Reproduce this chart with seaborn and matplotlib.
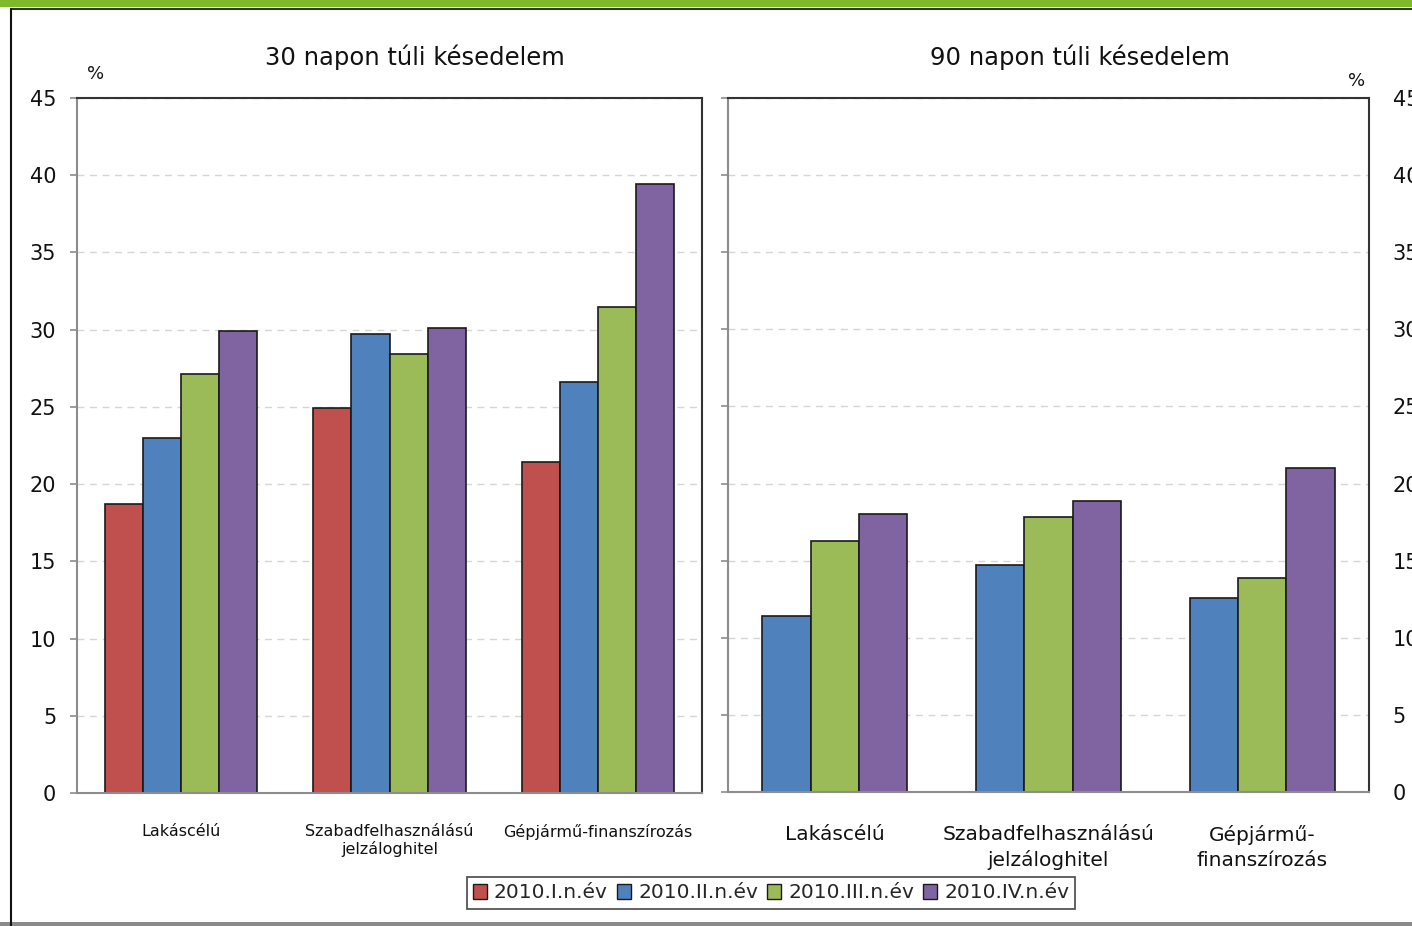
import numpy as np
import pandas as pd
import matplotlib
matplotlib.use("Agg")
import matplotlib.pyplot as plt
import seaborn as sns
from matplotlib.patches import Patch, Rectangle
from matplotlib.lines import Line2D

# Categories and periods
categories_left = ["Lakáscélú", "Szabadfelhasználású\njelzáloghitel", "Gépjármű-finanszírozás"]
categories_right = ["Lakáscélú", "Szabadfelhasználású\njelzáloghitel", "Gépjármű-\nfinanszírozás"]
periods = ["2010.I.n.év", "2010.II.n.év", "2010.III.n.év", "2010.IV.n.év"]
colors = ["#C0504D", "#4F81BD", "#9BBB59", "#8064A2"]

# 30 days past due (%), one list per period
late30_q1 = [18.7, 24.9, 21.4]
late30_q2 = [23.0, 29.7, 26.6]
late30_q3 = [27.1, 28.4, 31.5]
late30_q4 = [29.9, 30.1, 39.4]

# 90 days past due (%), no data for the first period
late90_q2 = [11.4, 14.7, 12.6]
late90_q3 = [16.3, 17.8, 13.9]
late90_q4 = [18.0, 18.9, 21.0]

yticks = [0, 5, 10, 15, 20, 25, 30, 35, 40, 45]

def long_frame(cats, series, names):
    rows = []
    for name, vals in zip(names, series):
        for c, v in zip(cats, vals):
            rows.append({"kategória": c, "időszak": name, "érték": v})
    return pd.DataFrame(rows)

df30 = long_frame(categories_left, [late30_q1, late30_q2, late30_q3, late30_q4], periods)
df90 = long_frame(categories_right, [late90_q2, late90_q3, late90_q4], periods[1:])

sns.set_theme(style="white")
plt.rcParams["font.family"] = ["DejaVu Sans"]

fig = plt.figure(figsize=(14.12, 9.26), dpi=100)
W, H = 1412, 926

def px_axes(x0, y0, x1, y1):
    return fig.add_axes([x0 / W, 1 - y1 / H, (x1 - x0) / W, (y1 - y0) / H])

ax1 = px_axes(77, 98, 702, 793)
ax2 = px_axes(728, 98, 1369, 792)

sns.barplot(data=df30, x="kategória", y="érték", hue="időszak", hue_order=periods,
            palette=colors, width=0.73, edgecolor="#1a1a1a", linewidth=1.2,
            saturation=1, ax=ax1, errorbar=None)
sns.barplot(data=df90, x="kategória", y="érték", hue="időszak", hue_order=periods[1:],
            palette=colors[1:], width=0.68, edgecolor="#1a1a1a", linewidth=1.2,
            saturation=1, ax=ax2, errorbar=None)

for ax in (ax1, ax2):
    ax.get_legend().remove()
    ax.set_ylim(0, 45)
    ax.set_xlim(-0.5, 2.5)
    ax.set_yticks(yticks)
    ax.set_xlabel("")
    ax.set_ylabel("")
    ax.grid(axis="y", linestyle=(0, (5, 4)), color="#d6d6d6", linewidth=1.0)
    ax.set_axisbelow(True)
    ax.set_xticks([-0.5, 0.5, 1.5, 2.5], minor=True)
    ax.tick_params(axis="x", which="minor", length=5, width=1.2, color="#8c8c8c", direction="out")
    ax.tick_params(axis="x", which="major", length=0)
    ax.spines["bottom"].set_color("#8c8c8c")
    ax.spines["bottom"].set_linewidth(1.5)
    for s in ("top", "right", "left"):
        ax.spines[s].set_linewidth(1.5)
    ax.spines["top"].set_color("#333333")

# Left panel axes
ax1.spines["left"].set_color("#8c8c8c")
ax1.spines["right"].set_color("#333333")
ax1.tick_params(axis="y", left=True, length=5, width=1.2, color="#8c8c8c",
                labelsize=15, pad=10, labelcolor="#111111")
ax1.set_xticks(range(3))
ax1.set_xticklabels(categories_left, fontsize=11.5, color="#111111")
ax1.tick_params(axis="x", which="major", pad=22)

# Right panel axes: ticks on the inner spine, labels on the outer side
ax2.spines["left"].set_color("#8c8c8c")
ax2.spines["right"].set_color("#333333")
ax2.tick_params(axis="y", left=True, right=False, labelleft=False, labelright=True,
                length=5, width=1.2, color="#8c8c8c", labelsize=15, pad=12,
                labelcolor="#111111")
ax2.set_xticks(range(3))
ax2.set_xticklabels(categories_right, fontsize=14.5, color="#111111", linespacing=1.35)
ax2.tick_params(axis="x", which="major", pad=24)

# Titles and unit labels
fig.text(415 / W, 1 - 57 / H, "30 napon túli késedelem", ha="center", va="center",
         fontsize=17.5, color="#111111")
fig.text(1080 / W, 1 - 57 / H, "90 napon túli késedelem", ha="center", va="center",
         fontsize=17.5, color="#111111")
fig.text(96 / W, 1 - 74 / H, "%", ha="center", va="center", fontsize=13, color="#111111")
fig.text(1357 / W, 1 - 81 / H, "%", ha="center", va="center", fontsize=13, color="#111111")

# Shared legend
handles = [Patch(facecolor=c, edgecolor="#1a1a1a", linewidth=1.0) for c in colors]
leg = fig.legend(handles, periods, loc="center", bbox_to_anchor=(771 / W, 1 - 893 / H),
                 ncol=4, frameon=True, fontsize=14.5, handlelength=0.7, handleheight=0.7,
                 handletextpad=0.35, columnspacing=0.45, borderpad=0.3, fancybox=False,
                 borderaxespad=0.0)
leg.get_frame().set_edgecolor("#1a1a1a")
leg.get_frame().set_linewidth(1.2)

# Page decorations: green band, frame lines
fig.add_artist(Rectangle((0, 1 - 7 / H), 1, 7 / H, transform=fig.transFigure,
                         facecolor="#7DB928", edgecolor="none"))
fig.add_artist(Line2D([11 / W, 1], [1 - 9 / H, 1 - 9 / H], transform=fig.transFigure,
                      color="#333333", linewidth=1.5))
fig.add_artist(Line2D([11 / W, 11 / W], [1 - 9 / H, 0], transform=fig.transFigure,
                      color="#111111", linewidth=1.5))
fig.add_artist(Rectangle((0, 0), 1, 4 / H, transform=fig.transFigure,
                         facecolor="#8a8a8a", edgecolor="none"))

fig.savefig("out.png", dpi=100)
